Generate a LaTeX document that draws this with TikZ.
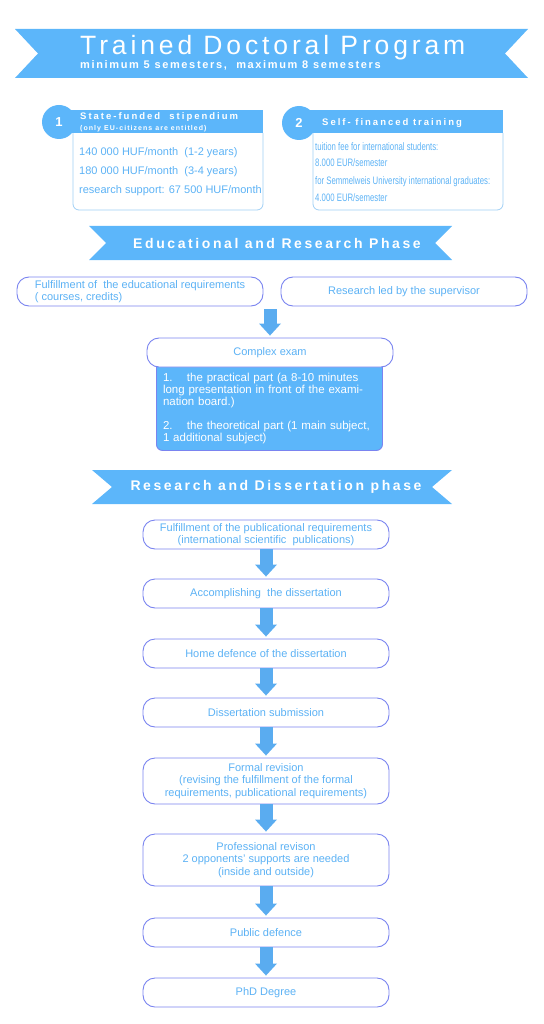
\documentclass[tikz,border=0pt]{standalone}
\usepackage{fontspec}
\setmainfont{Liberation Sans}
\newfontfamily\titlefont[LetterSpace=14.6]{Liberation Sans}
\newfontfamily\subfont[LetterSpace=15]{Liberation Sans}
\newfontfamily\bannerfont[LetterSpace=18.5]{Liberation Sans}
\newfontfamily\hdrfont[LetterSpace=21]{Liberation Sans}
\newfontfamily\smallhdrfont[LetterSpace=15]{Liberation Sans}
\newfontfamily\narrowfont[FakeStretch=0.72]{Liberation Sans}
\usetikzlibrary{arrows.meta}
\definecolor{bnr}{RGB}{92,182,250}
\definecolor{bord}{RGB}{122,132,240}
\definecolor{txt}{RGB}{92,178,245}
\definecolor{arr}{RGB}{90,172,240}
\definecolor{lbord}{RGB}{160,208,245}
\begin{document}
\begin{tikzpicture}[x=1pt,y=-1pt,
  flowbox/.style={draw=bord, line width=0.9pt, rounded corners=12pt, fill=white,
    minimum width=246pt, minimum height=29pt, inner sep=0pt, text=txt,
    font=\fontsize{11}{12.5}\selectfont, align=center},
  blockarrow/.style={draw=arr, line width=13pt,
    -{Triangle[width=22pt,length=12pt,line width=0pt]}, shorten >=2pt},
  bannertext/.style={inner sep=0pt, text=white, font=\bannerfont\bfseries\fontsize{14}{16}\selectfont},
  numcircle/.style={circle, fill=bnr, minimum size=34pt, inner sep=0pt, text=white,
    font=\bfseries\fontsize{13}{15}\selectfont},
  infotext/.style={anchor=base west, inner sep=0pt, text=txt, font=\fontsize{11}{13}\selectfont},
  feetext/.style={anchor=base west, inner sep=0pt, text=txt, font=\narrowfont\fontsize{10.8}{12}\selectfont},
  hdrtext/.style={anchor=base west, inner sep=0pt, text=white}
]
\useasboundingbox (0,0) rectangle (543,1024);

% ---------- title banner ----------
\fill[bnr] (15,29) -- (528,29) -- (505,53.5) -- (528,78) -- (15,78) -- (38,53.5) -- cycle;
\node[anchor=base west, inner sep=0pt, text=white, font=\titlefont\fontsize{26.5}{30}\selectfont]
  (title) at (80,55) {Trained Doctoral Program};
\node[anchor=base west, inner sep=0pt, text=white, font=\subfont\bfseries\fontsize{11}{13}\selectfont]
  (subtitle) at (80,69) {minimum 5 semesters,\ \ maximum 8 semesters};

% ---------- box 1 ----------
\draw[lbord, line width=0.8pt, rounded corners=6pt] (73,133) -- (73,210) -- (263,210) -- (263,133);
\fill[bnr] (59,110) rectangle (263,133);
\node[numcircle] (n1) at (59,122) {1};
\node[hdrtext, font=\hdrfont\bfseries\fontsize{9.5}{11}\selectfont] (h1a) at (80,119.5) {State-funded\ \ stipendium};
\node[hdrtext, font=\smallhdrfont\bfseries\fontsize{7}{8}\selectfont] (h1b) at (80,130.5) {(only EU-citizens are entitled)};
\node[infotext] (s1) at (79,156) {140 000 HUF/month\ \ (1-2 years)};
\node[infotext] (s2) at (79,175) {180 000 HUF/month\ \ (3-4 years)};
\node[infotext] (s3) at (79,194) {research support: 67 500 HUF/month};

% ---------- box 2 ----------
\draw[lbord, line width=0.8pt, rounded corners=6pt] (313,133) -- (313,210) -- (503,210) -- (503,133);
\fill[bnr] (299,110) rectangle (503,133);
\node[numcircle] (n2) at (299,123) {2};
\node[hdrtext, font=\hdrfont\bfseries\fontsize{9.5}{11}\selectfont] (h2) at (322,125.5) {Self- financed training};
\node[feetext] (f1) at (315,151) {tuition fee for international students:};
\node[feetext] (f2) at (315,167) {8.000 EUR/semester};
\node[feetext] (f3) at (315,185) {for Semmelweis University international graduates:};
\node[feetext] (f4) at (315,202) {4.000 EUR/semester};

% ---------- educational banner ----------
\fill[bnr] (89,226) -- (452,226) -- (435,243) -- (452,260) -- (89,260) -- (106,243) -- cycle;
\node[bannertext] (edu) at (277,243) {Educational and Research Phase};

\node[flowbox, align=left] (edreq) at (140,291.5) {Fulfillment of\ \ the educational requirements\\( courses, credits)};
\node[flowbox] (resup) at (404,291.5) {Research led by the supervisor};

\coordinate (rowjoin) at (270,309);
\node[draw=bord, line width=0.9pt, fill=bnr, rounded corners=6pt, minimum width=226pt,
  minimum height=95pt, anchor=north west, inner sep=0pt] (exbox) at (156,355) {};
\node[flowbox, minimum width=246pt] (exam) at (270,352.5) {Complex exam};
\node[inner sep=0pt, text=white, align=left, text width=212pt,
  font=\fontsize{11.5}{12}\selectfont] (exdetail) at (269,408.5)
  {\makebox[24pt][l]{1.}the practical part (a 8-10 minutes\\long presentation in front of the exami-\\nation board.)\\[12pt]\makebox[24pt][l]{2.}the theoretical part (1 main subject,\\1 additional subject)};
\draw[blockarrow] (rowjoin) -- (exam.north);

% ---------- research banner ----------
\fill[bnr] (92,470) -- (452,470) -- (432,487) -- (452,504) -- (92,504) -- (112,487) -- cycle;
\node[bannertext] (resb) at (276,487) {Research and Dissertation phase};

% ---------- flow ----------
\node[flowbox] (pub) at (266,534.5) {Fulfillment of the publicational requirements\\(international scientific\ \ publications)};
\node[flowbox] (acc) at (266,593.5) {Accomplishing\ \ the dissertation};
\node[flowbox] (home) at (266,653.5) {Home defence of the dissertation};
\node[flowbox] (subm) at (266,712.5) {Dissertation submission};
\node[flowbox, minimum height=46pt] (formal) at (266,781) {Formal revision\\(revising the fulfillment of the formal\\requirements, publicational requirements)};
\node[flowbox, minimum height=52pt] (prof) at (266,860) {Professional revison\\2 opponents' supports are needed\\(inside and outside)};
\node[flowbox] (public) at (266,932.5) {Public defence};
\node[flowbox] (phd) at (266,992.5) {PhD Degree};

\draw[blockarrow] (pub) -- (acc);
\draw[blockarrow] (acc) -- (home);
\draw[blockarrow] (home) -- (subm);
\draw[blockarrow] (subm) -- (formal);
\draw[blockarrow] (formal) -- (prof);
\draw[blockarrow] (prof) -- (public);
\draw[blockarrow] (public) -- (phd);
\end{tikzpicture}
\end{document}
